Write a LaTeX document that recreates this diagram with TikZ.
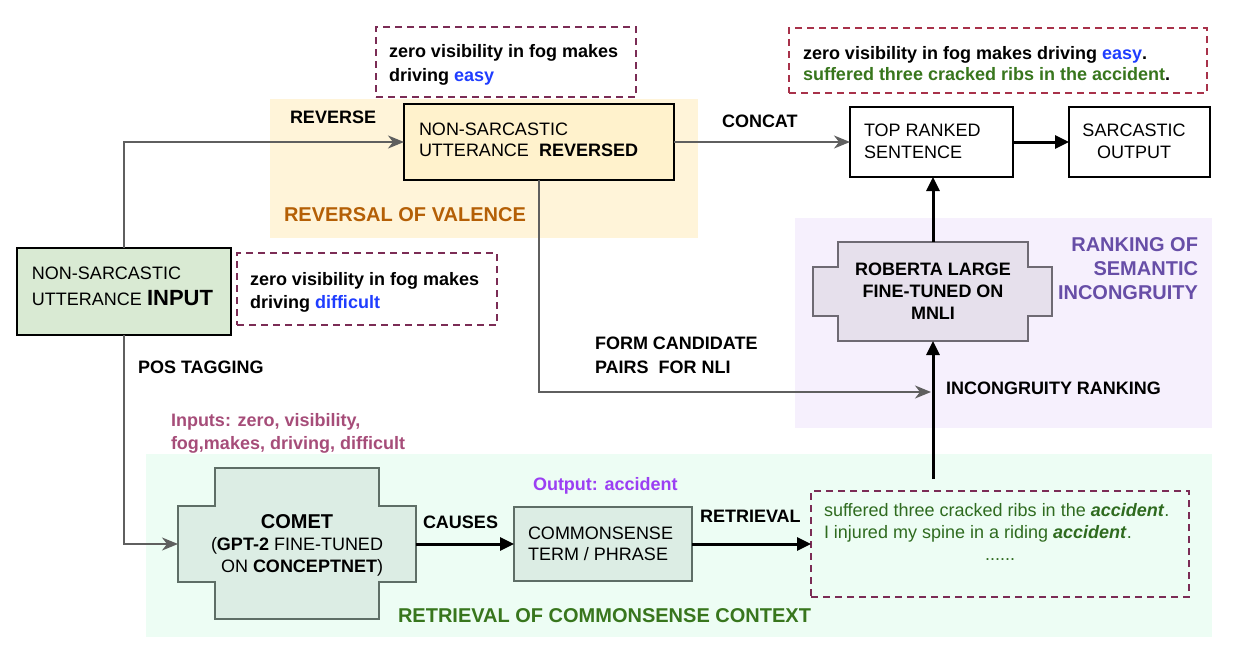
\documentclass[tikz,border=0pt]{standalone}
\usepackage{fontspec}
\setmainfont{Liberation Sans}
\usetikzlibrary{arrows.meta,fit}
\definecolor{ybg}{HTML}{FFF4D9}
\definecolor{pbg}{HTML}{F6F0FD}
\definecolor{gbg}{HTML}{EDFDF4}
\definecolor{infill}{HTML}{D9EAD3}
\definecolor{revfill}{HTML}{FFF2CC}
\definecolor{comfill}{HTML}{DCEDE4}
\definecolor{comline}{HTML}{5E6E66}
\definecolor{robfill}{HTML}{E6E0EC}
\definecolor{robline}{HTML}{6E6A73}
\definecolor{dashc}{HTML}{7B2C55}
\definecolor{dashr}{HTML}{A8324A}
\definecolor{grayarr}{HTML}{5F5F5F}
\definecolor{easyblue}{HTML}{1F3DFF}
\definecolor{dkgreen}{HTML}{38761D}
\definecolor{txgreen}{HTML}{2F6B1F}
\definecolor{orng}{HTML}{B45F06}
\definecolor{purp}{HTML}{674EA7}
\definecolor{magt}{HTML}{A64D79}
\definecolor{violettx}{HTML}{9B3FF3}
\begin{document}
\begin{tikzpicture}[x=0.5pt,y=-0.5pt,
  box/.style={inner sep=0pt, outer sep=0pt},
  region/.style={box, draw=none},
  thickbox/.style={box, draw=black, line width=1.3pt},
  dashbox/.style={box, draw=dashc, line width=0.6pt, dash pattern=on 3.5pt off 2.5pt},
  grayarrow/.style={draw=grayarr, line width=1pt, -{Stealth[length=8pt,width=6.5pt,inset=2.5pt]}},
  grayline/.style={draw=grayarr, line width=1pt},
  blackarrow/.style={draw=black, line width=1.5pt, -{Triangle[length=7pt,width=6.5pt]}},
  lbl/.style={inner sep=0pt, outer sep=0pt, font=\fontsize{9}{12}\selectfont, align=left},
  hd/.style={lbl, font=\fontsize{9}{12}\selectfont\bfseries},
  title/.style={lbl, font=\fontsize{10}{12}\selectfont\bfseries}
]
\useasboundingbox (0,0) rectangle (1244,648);
% regions
\node[region, fill=ybg, fit={(270,99) (698,238)}] (yreg) {};
\node[region, fill=pbg, fit={(795,218) (1212,428)}] (preg) {};
\node[region, fill=gbg, fit={(146,454) (1212,637)}] (greg) {};
% dashed boxes
\node[dashbox, fit={(376,27) (636,97)}] (dtl) {};
\node[dashbox, fit={(237,253) (497,325)}] (dbl) {};
\node[dashbox, draw=dashr, fit={(789,28) (1207,93)}] (dtr) {};
\node[dashbox, fit={(811,491) (1189,597)}] (ret) {};
% main boxes
\node[thickbox, fill=infill, fit={(17,248) (231,335)}] (in) {};
\node[thickbox, fill=revfill, fit={(404,104) (674,180)}] (rev) {};
\node[thickbox, fill=white, fit={(850,107) (1013,177)}] (top) {};
\node[thickbox, fill=white, fit={(1069,107) (1210,177)}] (sar) {};
\node[box, draw=comline, line width=0.8pt, fill=comfill, fit={(514,507) (692,581)}] (cs) {};
% comet cross shape
\node[box, fill=comfill, fit={(215,468) (379,619)}] (cometT) {};
\node[box, fill=comfill, fit={(178,506) (416,582)}] (cometW) {};
\draw[comline, line width=0.8pt] (cometT.north west) -- (cometT.north east) -- (cometT.east |- cometW.north) -- (cometW.north east) -- (cometW.south east) -- (cometT.east |- cometW.south) -- (cometT.south east) -- (cometT.south west) -- (cometT.west |- cometW.south) -- (cometW.south west) -- (cometW.north west) -- (cometT.west |- cometW.north) -- cycle;
% roberta cross shape
\node[box, fill=robfill, fit={(838,242) (1028,341)}] (robT) {};
\node[box, fill=robfill, fit={(813,267) (1052,316)}] (robW) {};
\draw[robline, line width=0.8pt] (robT.north west) -- (robT.north east) -- (robT.east |- robW.north) -- (robW.north east) -- (robW.south east) -- (robT.east |- robW.south) -- (robT.south east) -- (robT.south west) -- (robT.west |- robW.south) -- (robW.south west) -- (robW.north west) -- (robT.west |- robW.north) -- cycle;
% free ends
\coordinate (rs) at (933,479);
\coordinate (nli) at (931,392);
% connectors
\draw[grayarrow] (in.north) |- (rev.west);
\draw[grayarrow] (rev.east) -- (top.west);
\draw[blackarrow] (top.east) -- (sar.west);
\draw[blackarrow] (robT.north) -- (robT.north |- top.south);
\draw[blackarrow] (rs) -- (rs |- robT.south);
\draw[grayarrow] (rev.south) |- (nli);
\draw[grayarrow] (in.south) |- (cometW.west);
\draw[blackarrow] (cometW.east) -- (cs.west);
\draw[blackarrow] (cs.east) -- (ret.west);
% texts
\node[lbl, anchor=north west, font=\fontsize{9}{13}\selectfont] (tin) at (32,267) {NON-SARCASTIC\\UTTERANCE {\bfseries\fontsize{11}{13}\selectfont INPUT}};
\node[hd, anchor=north west] (ttl) at (389,44) {zero visibility in fog makes\\driving \textcolor{easyblue}{easy}};
\node[hd, anchor=north west, font=\fontsize{9}{11.5}\selectfont\bfseries] (tbl) at (250,272) {zero visibility in fog makes\\driving \textcolor{easyblue}{difficult}};
\node[hd, anchor=north west] (trev) at (290,111) {REVERSE};
\node[lbl, anchor=north west, font=\fontsize{9}{10.5}\selectfont] (trv) at (419,123) {NON-SARCASTIC\\UTTERANCE\ \ \textbf{REVERSED}};
\node[title, anchor=north west, text=orng] (tval) at (284,208) {REVERSAL OF VALENCE};
\node[hd, anchor=north west] (tcat) at (722,115) {CONCAT};
\node[hd, anchor=north west, font=\fontsize{9}{10.5}\selectfont\bfseries] (ttr) at (803,46) {zero visibility in fog makes driving \textcolor{easyblue}{easy}.\\\textcolor{dkgreen}{suffered three cracked ribs in the accident}.};
\node[lbl, anchor=north west, font=\fontsize{9}{11}\selectfont] (ttop) at (864,124) {TOP RANKED\\SENTENCE};
\node[lbl, anchor=north, align=center, font=\fontsize{9}{11}\selectfont] (tsar) at (1134,124) {SARCASTIC\\OUTPUT};
\node[title, anchor=north east, align=right, text=purp] (trank) at (1198,238) {RANKING OF\\SEMANTIC\\INCONGRUITY};
\node[hd, anchor=north, align=center, font=\fontsize{9}{11}\selectfont\bfseries] (trob) at (933,263) {ROBERTA LARGE\\FINE-TUNED ON\\MNLI};
\node[hd, anchor=north west] (tform) at (595,337) {FORM CANDIDATE\\PAIRS\ \ FOR NLI};
\node[hd, anchor=north west] (tinc) at (946,382) {INCONGRUITY RANKING};
\node[hd, anchor=north west] (tpos) at (138,361) {POS TAGGING};
\node[hd, anchor=north west, text=magt, font=\fontsize{9}{11.5}\selectfont\bfseries] (tinp) at (171,413) {Inputs: zero, visibility,\\fog,makes, driving, difficult};
\node[hd, anchor=north west, text=violettx] (tout) at (533,477) {Output: accident};
\node[lbl, anchor=north, align=center, font=\fontsize{9}{11}\selectfont] (tcom) at (297,515) {{\bfseries\fontsize{10}{11}\selectfont COMET}\\(\textbf{GPT-2} FINE-TUNED\\\ \ ON \textbf{CONCEPTNET})};
\node[hd, anchor=north west] (tcau) at (423,516) {CAUSES};
\node[lbl, anchor=north west, font=\fontsize{9}{10.5}\selectfont] (tcs) at (528,527) {COMMONSENSE\\TERM / PHRASE};
\node[hd, anchor=north west] (tret) at (700,510) {RETRIEVAL};
\node[lbl, anchor=north west, text=txgreen, font=\fontsize{9}{11}\selectfont] (tsent) at (824,503) {suffered three cracked ribs in the \textbf{\textit{accident}}.\\I injured my spine in a riding \textbf{\textit{accident}}.};
\node[lbl, anchor=base, text=txgreen] (tdots) at (1000,560) {......};
\node[title, anchor=north west, text=dkgreen] (tctx) at (398,609) {RETRIEVAL OF COMMONSENSE CONTEXT};
\end{tikzpicture}
\end{document}
